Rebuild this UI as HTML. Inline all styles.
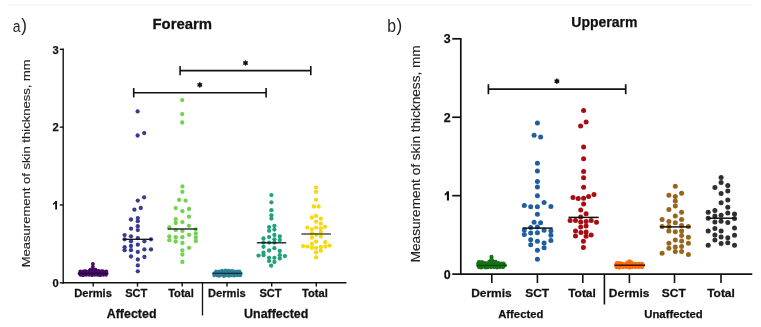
<!DOCTYPE html>
<html><head><meta charset="utf-8"><style>
html,body{margin:0;padding:0;background:#fff;}
body{width:761px;height:327px;overflow:hidden;position:relative;font-family:"Liberation Sans", sans-serif;}
svg{position:absolute;left:0;top:0;will-change:transform;filter:blur(0.25px);}
.lab{position:absolute;font-family:"Liberation Sans", sans-serif;color:#333;font-weight:normal;}
</style></head><body>
<svg width="761" height="327" viewBox="0 0 761 327" font-family='"Liberation Sans", sans-serif'>
<rect x="8" y="4" width="744" height="2" fill="#f8f8f8"/>
<line x1="63.2" y1="48.599999999999994" x2="63.2" y2="283.5" stroke="#111" stroke-width="1.4"/>
<line x1="62.5" y1="282.8" x2="346.5" y2="282.8" stroke="#111" stroke-width="1.5"/>
<line x1="59.8" y1="282.8" x2="63.2" y2="282.8" stroke="#111" stroke-width="1.4"/>
<text x="55.7" y="287.0" font-size="11.2" font-weight="bold" text-anchor="middle" fill="#111" stroke="#111" stroke-width="0.25" >0</text>
<line x1="59.8" y1="204.9666666666667" x2="63.2" y2="204.9666666666667" stroke="#111" stroke-width="1.4"/>
<path d="M55.2 200.9 L57.0 200.9 L57.0 209.4 L55.2 209.4 L55.2 203.6 Q54.4 204.4 53.1 204.9 L53.1 203.3 Q54.7 202.5 55.2 200.9 Z" fill="#111"/>
<line x1="59.8" y1="127.13333333333335" x2="63.2" y2="127.13333333333335" stroke="#111" stroke-width="1.4"/>
<text x="55.7" y="131.33333333333334" font-size="11.2" font-weight="bold" text-anchor="middle" fill="#111" stroke="#111" stroke-width="0.25" >2</text>
<line x1="59.8" y1="49.30000000000001" x2="63.2" y2="49.30000000000001" stroke="#111" stroke-width="1.4"/>
<text x="55.7" y="53.500000000000014" font-size="11.2" font-weight="bold" text-anchor="middle" fill="#111" stroke="#111" stroke-width="0.25" >3</text>
<line x1="93.2" y1="282.8" x2="93.2" y2="286.6" stroke="#111" stroke-width="1.4"/>
<line x1="137.5" y1="282.8" x2="137.5" y2="286.6" stroke="#111" stroke-width="1.4"/>
<line x1="182.2" y1="282.8" x2="182.2" y2="286.6" stroke="#111" stroke-width="1.4"/>
<line x1="227.0" y1="282.8" x2="227.0" y2="286.6" stroke="#111" stroke-width="1.4"/>
<line x1="271.7" y1="282.8" x2="271.7" y2="286.6" stroke="#111" stroke-width="1.4"/>
<line x1="316.3" y1="282.8" x2="316.3" y2="286.6" stroke="#111" stroke-width="1.4"/>
<text transform="translate(93.00,296.70) scale(1.06,1)" font-size="10.5" font-weight="bold" text-anchor="middle" fill="#111" stroke="#111" stroke-width="0.25" >Dermis</text>
<text transform="translate(136.30,296.70) scale(1.06,1)" font-size="10.5" font-weight="bold" text-anchor="middle" fill="#111" stroke="#111" stroke-width="0.25" >SCT</text>
<text transform="translate(181.00,296.70) scale(1.06,1)" font-size="10.5" font-weight="bold" text-anchor="middle" fill="#111" stroke="#111" stroke-width="0.25" >Total</text>
<text transform="translate(226.90,296.70) scale(1.06,1)" font-size="10.5" font-weight="bold" text-anchor="middle" fill="#111" stroke="#111" stroke-width="0.25" >Dermis</text>
<text transform="translate(270.50,296.70) scale(1.06,1)" font-size="10.5" font-weight="bold" text-anchor="middle" fill="#111" stroke="#111" stroke-width="0.25" >SCT</text>
<text transform="translate(314.90,296.70) scale(1.06,1)" font-size="10.5" font-weight="bold" text-anchor="middle" fill="#111" stroke="#111" stroke-width="0.25" >Total</text>
<line x1="202.5" y1="282.8" x2="202.5" y2="315.5" stroke="#111" stroke-width="1.3"/>
<text transform="translate(131.60,317.90) scale(1.02,1)" font-size="12.2" font-weight="bold" text-anchor="middle" fill="#111" stroke="#111" stroke-width="0.25" >Affected</text>
<text transform="translate(276.20,317.90) scale(1.02,1)" font-size="12.2" font-weight="bold" text-anchor="middle" fill="#111" stroke="#111" stroke-width="0.25" >Unaffected</text>
<text transform="translate(182.30,29.00) scale(1.05,1)" font-size="14.2" font-weight="bold" text-anchor="middle" fill="#111" stroke="#111" stroke-width="0.25" >Forearm</text>
<text transform="translate(30.3,163.3) rotate(-90)" font-size="10.6" text-anchor="middle" textLength="208" lengthAdjust="spacingAndGlyphs" fill="#222" stroke="#222" stroke-width="0.12">Measurement of skin thickness, mm</text>
<line x1="180.1" y1="70.6" x2="310.8" y2="70.6" stroke="#111" stroke-width="1.6"/>
<line x1="180.1" y1="65.89999999999999" x2="180.1" y2="75.3" stroke="#111" stroke-width="1.6"/>
<line x1="310.8" y1="65.89999999999999" x2="310.8" y2="75.3" stroke="#111" stroke-width="1.6"/>
<line x1="245.50" y1="60.90" x2="245.50" y2="65.10" stroke="#111" stroke-width="1.5" stroke-linecap="round"/>
<line x1="243.68" y1="61.95" x2="247.32" y2="64.05" stroke="#111" stroke-width="1.5" stroke-linecap="round"/>
<line x1="247.32" y1="61.95" x2="243.68" y2="64.05" stroke="#111" stroke-width="1.5" stroke-linecap="round"/>
<circle cx="245.5" cy="63.0" r="1.75" fill="#111"/>
<line x1="133.7" y1="92.7" x2="266.1" y2="92.7" stroke="#111" stroke-width="1.6"/>
<line x1="133.7" y1="88.0" x2="133.7" y2="97.4" stroke="#111" stroke-width="1.6"/>
<line x1="266.1" y1="88.0" x2="266.1" y2="97.4" stroke="#111" stroke-width="1.6"/>
<line x1="199.80" y1="82.80" x2="199.80" y2="87.00" stroke="#111" stroke-width="1.5" stroke-linecap="round"/>
<line x1="197.98" y1="83.85" x2="201.62" y2="85.95" stroke="#111" stroke-width="1.5" stroke-linecap="round"/>
<line x1="201.62" y1="83.85" x2="197.98" y2="85.95" stroke="#111" stroke-width="1.5" stroke-linecap="round"/>
<circle cx="199.8" cy="84.9" r="1.75" fill="#111"/>
<circle cx="137.6" cy="111.4" r="2.15" fill="#373b92"/>
<circle cx="137.6" cy="135.5" r="2.15" fill="#373b92"/>
<circle cx="144.2" cy="133.1" r="2.15" fill="#373b92"/>
<circle cx="144.1" cy="197.3" r="2.15" fill="#373b92"/>
<circle cx="137.8" cy="200.6" r="2.15" fill="#373b92"/>
<circle cx="134.4" cy="209.7" r="2.15" fill="#373b92"/>
<circle cx="140.8" cy="208.0" r="2.15" fill="#373b92"/>
<circle cx="131.0" cy="219.5" r="2.15" fill="#373b92"/>
<circle cx="137.8" cy="218.1" r="2.15" fill="#373b92"/>
<circle cx="137.8" cy="221.2" r="2.15" fill="#373b92"/>
<circle cx="131.0" cy="228.7" r="2.15" fill="#373b92"/>
<circle cx="137.8" cy="226.2" r="2.15" fill="#373b92"/>
<circle cx="137.8" cy="230.1" r="2.15" fill="#373b92"/>
<circle cx="124.6" cy="235.1" r="2.15" fill="#373b92"/>
<circle cx="131.0" cy="236.3" r="2.15" fill="#373b92"/>
<circle cx="137.8" cy="238.1" r="2.15" fill="#373b92"/>
<circle cx="124.6" cy="239.3" r="2.15" fill="#373b92"/>
<circle cx="131.0" cy="241.3" r="2.15" fill="#373b92"/>
<circle cx="144.4" cy="241.3" r="2.15" fill="#373b92"/>
<circle cx="151.0" cy="239.3" r="2.15" fill="#373b92"/>
<circle cx="137.8" cy="244.7" r="2.15" fill="#373b92"/>
<circle cx="131.0" cy="246.0" r="2.15" fill="#373b92"/>
<circle cx="124.6" cy="247.2" r="2.15" fill="#373b92"/>
<circle cx="144.4" cy="249.4" r="2.15" fill="#373b92"/>
<circle cx="151.0" cy="249.4" r="2.15" fill="#373b92"/>
<circle cx="124.6" cy="250.2" r="2.15" fill="#373b92"/>
<circle cx="131.0" cy="250.2" r="2.15" fill="#373b92"/>
<circle cx="137.8" cy="251.9" r="2.15" fill="#373b92"/>
<circle cx="131.0" cy="256.5" r="2.15" fill="#373b92"/>
<circle cx="144.4" cy="257.0" r="2.15" fill="#373b92"/>
<circle cx="137.8" cy="259.5" r="2.15" fill="#373b92"/>
<circle cx="137.8" cy="265.4" r="2.15" fill="#373b92"/>
<circle cx="137.8" cy="271.3" r="2.15" fill="#373b92"/>
<line x1="123.1" y1="239.3" x2="152.1" y2="239.3" stroke="#111" stroke-width="1.3"/>
<circle cx="182.2" cy="100.1" r="2.15" fill="#6fd34c"/>
<circle cx="182.2" cy="114.1" r="2.15" fill="#6fd34c"/>
<circle cx="182.2" cy="122.5" r="2.15" fill="#6fd34c"/>
<circle cx="182.4" cy="186.4" r="2.15" fill="#6fd34c"/>
<circle cx="182.4" cy="191.8" r="2.15" fill="#6fd34c"/>
<circle cx="179.1" cy="199.9" r="2.15" fill="#6fd34c"/>
<circle cx="185.6" cy="200.6" r="2.15" fill="#6fd34c"/>
<circle cx="175.7" cy="208.1" r="2.15" fill="#6fd34c"/>
<circle cx="182.4" cy="211.2" r="2.15" fill="#6fd34c"/>
<circle cx="189.0" cy="209.0" r="2.15" fill="#6fd34c"/>
<circle cx="189.0" cy="216.7" r="2.15" fill="#6fd34c"/>
<circle cx="175.7" cy="219.1" r="2.15" fill="#6fd34c"/>
<circle cx="175.7" cy="223.0" r="2.15" fill="#6fd34c"/>
<circle cx="182.4" cy="222.1" r="2.15" fill="#6fd34c"/>
<circle cx="189.0" cy="225.8" r="2.15" fill="#6fd34c"/>
<circle cx="169.3" cy="227.5" r="2.15" fill="#6fd34c"/>
<circle cx="175.7" cy="230.1" r="2.15" fill="#6fd34c"/>
<circle cx="182.4" cy="230.9" r="2.15" fill="#6fd34c"/>
<circle cx="195.8" cy="229.3" r="2.15" fill="#6fd34c"/>
<circle cx="195.8" cy="233.5" r="2.15" fill="#6fd34c"/>
<circle cx="195.8" cy="237.3" r="2.15" fill="#6fd34c"/>
<circle cx="195.8" cy="241.0" r="2.15" fill="#6fd34c"/>
<circle cx="189.0" cy="234.8" r="2.15" fill="#6fd34c"/>
<circle cx="169.3" cy="236.3" r="2.15" fill="#6fd34c"/>
<circle cx="169.3" cy="240.2" r="2.15" fill="#6fd34c"/>
<circle cx="175.7" cy="237.2" r="2.15" fill="#6fd34c"/>
<circle cx="175.7" cy="241.5" r="2.15" fill="#6fd34c"/>
<circle cx="182.4" cy="237.2" r="2.15" fill="#6fd34c"/>
<circle cx="182.4" cy="243.0" r="2.15" fill="#6fd34c"/>
<circle cx="189.0" cy="247.8" r="2.15" fill="#6fd34c"/>
<circle cx="182.4" cy="250.3" r="2.15" fill="#6fd34c"/>
<circle cx="182.4" cy="254.5" r="2.15" fill="#6fd34c"/>
<circle cx="182.4" cy="262.0" r="2.15" fill="#6fd34c"/>
<line x1="167.6" y1="229.0" x2="197.0" y2="229.0" stroke="#111" stroke-width="1.3"/>
<circle cx="92.9" cy="263.9" r="1.9" fill="#440a66"/>
<circle cx="92.9" cy="266.8" r="1.9" fill="#440a66"/>
<circle cx="90.5" cy="269.6" r="1.9" fill="#440a66"/>
<circle cx="93.0" cy="269.2" r="1.9" fill="#440a66"/>
<circle cx="95.5" cy="269.6" r="1.9" fill="#440a66"/>
<circle cx="80.3" cy="271.5" r="1.9" fill="#440a66"/>
<circle cx="83.2" cy="271.5" r="1.9" fill="#440a66"/>
<circle cx="86.1" cy="271.5" r="1.9" fill="#440a66"/>
<circle cx="89.0" cy="271.5" r="1.9" fill="#440a66"/>
<circle cx="91.9" cy="271.5" r="1.9" fill="#440a66"/>
<circle cx="94.7" cy="271.5" r="1.9" fill="#440a66"/>
<circle cx="97.6" cy="271.5" r="1.9" fill="#440a66"/>
<circle cx="100.5" cy="271.5" r="1.9" fill="#440a66"/>
<circle cx="103.4" cy="271.5" r="1.9" fill="#440a66"/>
<circle cx="106.3" cy="271.5" r="1.9" fill="#440a66"/>
<circle cx="79.6" cy="273.4" r="1.9" fill="#440a66"/>
<circle cx="82.6" cy="273.4" r="1.9" fill="#440a66"/>
<circle cx="85.6" cy="273.4" r="1.9" fill="#440a66"/>
<circle cx="88.6" cy="273.4" r="1.9" fill="#440a66"/>
<circle cx="91.6" cy="273.4" r="1.9" fill="#440a66"/>
<circle cx="94.6" cy="273.4" r="1.9" fill="#440a66"/>
<circle cx="97.6" cy="273.4" r="1.9" fill="#440a66"/>
<circle cx="100.6" cy="273.4" r="1.9" fill="#440a66"/>
<circle cx="103.6" cy="273.4" r="1.9" fill="#440a66"/>
<circle cx="106.6" cy="273.4" r="1.9" fill="#440a66"/>
<circle cx="80.5" cy="274.8" r="1.9" fill="#440a66"/>
<circle cx="83.3" cy="274.8" r="1.9" fill="#440a66"/>
<circle cx="86.2" cy="274.8" r="1.9" fill="#440a66"/>
<circle cx="89.0" cy="274.8" r="1.9" fill="#440a66"/>
<circle cx="91.8" cy="274.8" r="1.9" fill="#440a66"/>
<circle cx="94.7" cy="274.8" r="1.9" fill="#440a66"/>
<circle cx="97.5" cy="274.8" r="1.9" fill="#440a66"/>
<circle cx="100.3" cy="274.8" r="1.9" fill="#440a66"/>
<circle cx="103.2" cy="274.8" r="1.9" fill="#440a66"/>
<circle cx="106.0" cy="274.8" r="1.9" fill="#440a66"/>
<circle cx="85.0" cy="271.2" r="1.9" fill="#440a66"/>
<circle cx="89.5" cy="271.0" r="1.9" fill="#440a66"/>
<circle cx="98.5" cy="271.0" r="1.9" fill="#440a66"/>
<circle cx="102.0" cy="271.1" r="1.9" fill="#440a66"/>
<circle cx="83.0" cy="275.2" r="1.9" fill="#440a66"/>
<circle cx="92.0" cy="275.1" r="1.9" fill="#440a66"/>
<circle cx="100.0" cy="275.2" r="1.9" fill="#440a66"/>
<line x1="78.5" y1="273.4" x2="107.6" y2="273.4" stroke="#1a0030" stroke-width="1.0"/>
<circle cx="216.0" cy="271.5" r="1.9" fill="#2b7d95"/>
<circle cx="218.9" cy="271.5" r="1.9" fill="#2b7d95"/>
<circle cx="221.9" cy="271.5" r="1.9" fill="#2b7d95"/>
<circle cx="224.8" cy="271.5" r="1.9" fill="#2b7d95"/>
<circle cx="227.8" cy="271.5" r="1.9" fill="#2b7d95"/>
<circle cx="230.7" cy="271.5" r="1.9" fill="#2b7d95"/>
<circle cx="233.6" cy="271.5" r="1.9" fill="#2b7d95"/>
<circle cx="236.6" cy="271.5" r="1.9" fill="#2b7d95"/>
<circle cx="239.5" cy="271.5" r="1.9" fill="#2b7d95"/>
<circle cx="214.0" cy="273.3" r="1.9" fill="#2b7d95"/>
<circle cx="217.0" cy="273.3" r="1.9" fill="#2b7d95"/>
<circle cx="219.9" cy="273.3" r="1.9" fill="#2b7d95"/>
<circle cx="222.9" cy="273.3" r="1.9" fill="#2b7d95"/>
<circle cx="225.9" cy="273.3" r="1.9" fill="#2b7d95"/>
<circle cx="228.8" cy="273.3" r="1.9" fill="#2b7d95"/>
<circle cx="231.8" cy="273.3" r="1.9" fill="#2b7d95"/>
<circle cx="234.8" cy="273.3" r="1.9" fill="#2b7d95"/>
<circle cx="237.7" cy="273.3" r="1.9" fill="#2b7d95"/>
<circle cx="240.7" cy="273.3" r="1.9" fill="#2b7d95"/>
<circle cx="214.3" cy="275.3" r="1.9" fill="#2b7d95"/>
<circle cx="217.2" cy="275.3" r="1.9" fill="#2b7d95"/>
<circle cx="220.1" cy="275.3" r="1.9" fill="#2b7d95"/>
<circle cx="223.0" cy="275.3" r="1.9" fill="#2b7d95"/>
<circle cx="225.9" cy="275.3" r="1.9" fill="#2b7d95"/>
<circle cx="228.7" cy="275.3" r="1.9" fill="#2b7d95"/>
<circle cx="231.6" cy="275.3" r="1.9" fill="#2b7d95"/>
<circle cx="234.5" cy="275.3" r="1.9" fill="#2b7d95"/>
<circle cx="237.4" cy="275.3" r="1.9" fill="#2b7d95"/>
<circle cx="240.3" cy="275.3" r="1.9" fill="#2b7d95"/>
<circle cx="222.0" cy="270.6" r="1.9" fill="#2b7d95"/>
<circle cx="225.5" cy="270.4" r="1.9" fill="#2b7d95"/>
<circle cx="228.5" cy="270.7" r="1.9" fill="#2b7d95"/>
<circle cx="232.0" cy="271.0" r="1.9" fill="#2b7d95"/>
<circle cx="219.0" cy="275.8" r="1.9" fill="#2b7d95"/>
<circle cx="224.0" cy="276.0" r="1.9" fill="#2b7d95"/>
<circle cx="229.0" cy="275.8" r="1.9" fill="#2b7d95"/>
<circle cx="234.0" cy="275.6" r="1.9" fill="#2b7d95"/>
<line x1="212.8" y1="273.3" x2="241.8" y2="273.3" stroke="#0a2530" stroke-width="1.1"/>
<circle cx="271.4" cy="195.1" r="2.15" fill="#20a27b"/>
<circle cx="271.4" cy="202.3" r="2.15" fill="#20a27b"/>
<circle cx="271.4" cy="210.2" r="2.15" fill="#20a27b"/>
<circle cx="271.4" cy="215.3" r="2.15" fill="#20a27b"/>
<circle cx="271.4" cy="218.6" r="2.15" fill="#20a27b"/>
<circle cx="269.1" cy="227.1" r="2.15" fill="#20a27b"/>
<circle cx="269.1" cy="230.8" r="2.15" fill="#20a27b"/>
<circle cx="274.4" cy="225.9" r="2.15" fill="#20a27b"/>
<circle cx="274.4" cy="229.6" r="2.15" fill="#20a27b"/>
<circle cx="263.5" cy="238.5" r="2.15" fill="#20a27b"/>
<circle cx="269.1" cy="237.1" r="2.15" fill="#20a27b"/>
<circle cx="274.4" cy="235.0" r="2.15" fill="#20a27b"/>
<circle cx="274.4" cy="239.3" r="2.15" fill="#20a27b"/>
<circle cx="279.8" cy="236.5" r="2.15" fill="#20a27b"/>
<circle cx="279.8" cy="240.1" r="2.15" fill="#20a27b"/>
<circle cx="263.5" cy="242.6" r="2.15" fill="#20a27b"/>
<circle cx="269.1" cy="242.6" r="2.15" fill="#20a27b"/>
<circle cx="274.4" cy="242.6" r="2.15" fill="#20a27b"/>
<circle cx="263.5" cy="246.8" r="2.15" fill="#20a27b"/>
<circle cx="274.4" cy="248.2" r="2.15" fill="#20a27b"/>
<circle cx="269.1" cy="250.5" r="2.15" fill="#20a27b"/>
<circle cx="279.8" cy="251.0" r="2.15" fill="#20a27b"/>
<circle cx="263.5" cy="252.7" r="2.15" fill="#20a27b"/>
<circle cx="258.5" cy="255.6" r="2.15" fill="#20a27b"/>
<circle cx="263.5" cy="255.2" r="2.15" fill="#20a27b"/>
<circle cx="279.8" cy="255.2" r="2.15" fill="#20a27b"/>
<circle cx="284.9" cy="256.1" r="2.15" fill="#20a27b"/>
<circle cx="269.1" cy="257.8" r="2.15" fill="#20a27b"/>
<circle cx="274.4" cy="257.8" r="2.15" fill="#20a27b"/>
<circle cx="279.8" cy="258.6" r="2.15" fill="#20a27b"/>
<circle cx="269.1" cy="261.1" r="2.15" fill="#20a27b"/>
<circle cx="274.4" cy="262.0" r="2.15" fill="#20a27b"/>
<circle cx="271.1" cy="265.7" r="2.15" fill="#20a27b"/>
<line x1="256.8" y1="242.8" x2="286.2" y2="242.8" stroke="#111" stroke-width="1.3"/>
<circle cx="316.1" cy="187.6" r="2.15" fill="#f5d80e"/>
<circle cx="316.1" cy="191.8" r="2.15" fill="#f5d80e"/>
<circle cx="316.1" cy="199.7" r="2.15" fill="#f5d80e"/>
<circle cx="313.9" cy="206.5" r="2.15" fill="#f5d80e"/>
<circle cx="318.6" cy="206.5" r="2.15" fill="#f5d80e"/>
<circle cx="316.1" cy="215.9" r="2.15" fill="#f5d80e"/>
<circle cx="311.9" cy="217.5" r="2.15" fill="#f5d80e"/>
<circle cx="320.8" cy="218.7" r="2.15" fill="#f5d80e"/>
<circle cx="316.1" cy="221.7" r="2.15" fill="#f5d80e"/>
<circle cx="320.8" cy="223.7" r="2.15" fill="#f5d80e"/>
<circle cx="307.3" cy="227.6" r="2.15" fill="#f5d80e"/>
<circle cx="311.9" cy="229.3" r="2.15" fill="#f5d80e"/>
<circle cx="316.1" cy="227.6" r="2.15" fill="#f5d80e"/>
<circle cx="320.8" cy="228.5" r="2.15" fill="#f5d80e"/>
<circle cx="325.0" cy="226.8" r="2.15" fill="#f5d80e"/>
<circle cx="320.8" cy="231.8" r="2.15" fill="#f5d80e"/>
<circle cx="311.9" cy="233.5" r="2.15" fill="#f5d80e"/>
<circle cx="316.1" cy="234.8" r="2.15" fill="#f5d80e"/>
<circle cx="320.8" cy="236.5" r="2.15" fill="#f5d80e"/>
<circle cx="311.9" cy="237.7" r="2.15" fill="#f5d80e"/>
<circle cx="316.1" cy="241.6" r="2.15" fill="#f5d80e"/>
<circle cx="325.3" cy="242.2" r="2.15" fill="#f5d80e"/>
<circle cx="311.9" cy="243.9" r="2.15" fill="#f5d80e"/>
<circle cx="303.1" cy="246.1" r="2.15" fill="#f5d80e"/>
<circle cx="307.3" cy="246.6" r="2.15" fill="#f5d80e"/>
<circle cx="311.9" cy="247.8" r="2.15" fill="#f5d80e"/>
<circle cx="316.1" cy="247.8" r="2.15" fill="#f5d80e"/>
<circle cx="320.8" cy="247.0" r="2.15" fill="#f5d80e"/>
<circle cx="325.3" cy="246.6" r="2.15" fill="#f5d80e"/>
<circle cx="329.5" cy="245.6" r="2.15" fill="#f5d80e"/>
<circle cx="316.1" cy="252.3" r="2.15" fill="#f5d80e"/>
<circle cx="320.8" cy="250.7" r="2.15" fill="#f5d80e"/>
<circle cx="316.1" cy="257.4" r="2.15" fill="#f5d80e"/>
<line x1="301.4" y1="234.0" x2="330.9" y2="234.0" stroke="#333" stroke-width="1.3"/>
<line x1="460.8" y1="38.0" x2="460.8" y2="274.90000000000003" stroke="#111" stroke-width="1.7"/>
<line x1="460.0" y1="274.1" x2="752.3" y2="274.1" stroke="#111" stroke-width="1.7"/>
<line x1="452.2" y1="274.1" x2="460.8" y2="274.1" stroke="#111" stroke-width="1.7"/>
<text x="447.3" y="278.6" font-size="12.4" font-weight="bold" text-anchor="middle" fill="#111" stroke="#111" stroke-width="0.25" >0</text>
<line x1="452.2" y1="195.66666666666669" x2="460.8" y2="195.66666666666669" stroke="#111" stroke-width="1.7"/>
<path d="M446.9 191.3 L449.0 191.3 L449.0 200.4 L446.9 200.4 L446.9 194.2 Q446.0 195.1 444.7 195.6 L444.7 193.8 Q446.3 193.0 446.9 191.3 Z" fill="#111"/>
<line x1="452.2" y1="117.23333333333335" x2="460.8" y2="117.23333333333335" stroke="#111" stroke-width="1.7"/>
<text x="447.3" y="121.73333333333335" font-size="12.4" font-weight="bold" text-anchor="middle" fill="#111" stroke="#111" stroke-width="0.25" >2</text>
<line x1="452.2" y1="38.79999999999998" x2="460.8" y2="38.79999999999998" stroke="#111" stroke-width="1.7"/>
<text x="447.3" y="43.29999999999998" font-size="12.4" font-weight="bold" text-anchor="middle" fill="#111" stroke="#111" stroke-width="0.25" >3</text>
<line x1="491.8" y1="274.1" x2="491.8" y2="283.1" stroke="#111" stroke-width="1.6"/>
<line x1="537.4" y1="274.1" x2="537.4" y2="283.1" stroke="#111" stroke-width="1.6"/>
<line x1="582.8" y1="274.1" x2="582.8" y2="283.1" stroke="#111" stroke-width="1.6"/>
<line x1="629.4" y1="274.1" x2="629.4" y2="283.1" stroke="#111" stroke-width="1.6"/>
<line x1="674.5" y1="274.1" x2="674.5" y2="283.1" stroke="#111" stroke-width="1.6"/>
<line x1="721.0" y1="274.1" x2="721.0" y2="283.1" stroke="#111" stroke-width="1.6"/>
<text transform="translate(491.40,296.70) scale(1.04,1)" font-size="11.5" font-weight="bold" text-anchor="middle" fill="#111" stroke="#111" stroke-width="0.25" >Dermis</text>
<text transform="translate(537.20,296.70) scale(1.04,1)" font-size="11.5" font-weight="bold" text-anchor="middle" fill="#111" stroke="#111" stroke-width="0.25" >SCT</text>
<text transform="translate(582.00,296.70) scale(1.04,1)" font-size="11.5" font-weight="bold" text-anchor="middle" fill="#111" stroke="#111" stroke-width="0.25" >Total</text>
<text transform="translate(629.10,296.70) scale(1.04,1)" font-size="11.5" font-weight="bold" text-anchor="middle" fill="#111" stroke="#111" stroke-width="0.25" >Dermis</text>
<text transform="translate(673.80,296.70) scale(1.04,1)" font-size="11.5" font-weight="bold" text-anchor="middle" fill="#111" stroke="#111" stroke-width="0.25" >SCT</text>
<text transform="translate(721.00,296.70) scale(1.04,1)" font-size="11.5" font-weight="bold" text-anchor="middle" fill="#111" stroke="#111" stroke-width="0.25" >Total</text>
<line x1="604.4" y1="274.1" x2="604.4" y2="304.5" stroke="#111" stroke-width="1.6"/>
<text x="520.8" y="317.9" font-size="11.3" font-weight="bold" text-anchor="middle" fill="#111" stroke="#111" stroke-width="0.25" >Affected</text>
<text x="673.5" y="317.9" font-size="11.3" font-weight="bold" text-anchor="middle" fill="#111" stroke="#111" stroke-width="0.25" >Unaffected</text>
<text x="604.4" y="27.2" font-size="14.0" font-weight="bold" text-anchor="middle" fill="#111" stroke="#111" stroke-width="0.25" >Upperarm</text>
<text transform="translate(420.3,153.8) rotate(-90)" font-size="11.9" text-anchor="middle" textLength="217" lengthAdjust="spacingAndGlyphs" fill="#222" stroke="#222" stroke-width="0.12">Measurement of skin thickness, mm</text>
<line x1="488.4" y1="89.2" x2="625.7" y2="89.2" stroke="#111" stroke-width="1.7"/>
<line x1="488.4" y1="84.2" x2="488.4" y2="94.2" stroke="#111" stroke-width="1.7"/>
<line x1="625.7" y1="84.2" x2="625.7" y2="94.2" stroke="#111" stroke-width="1.7"/>
<line x1="556.90" y1="79.10" x2="556.90" y2="83.30" stroke="#111" stroke-width="1.5" stroke-linecap="round"/>
<line x1="555.08" y1="80.15" x2="558.72" y2="82.25" stroke="#111" stroke-width="1.5" stroke-linecap="round"/>
<line x1="558.72" y1="80.15" x2="555.08" y2="82.25" stroke="#111" stroke-width="1.5" stroke-linecap="round"/>
<circle cx="556.9" cy="81.2" r="1.75" fill="#111"/>
<circle cx="537.4" cy="123.1" r="2.5" fill="#1f5f9f"/>
<circle cx="534.1" cy="135.2" r="2.5" fill="#1f5f9f"/>
<circle cx="540.6" cy="136.9" r="2.5" fill="#1f5f9f"/>
<circle cx="537.4" cy="163.3" r="2.5" fill="#1f5f9f"/>
<circle cx="537.4" cy="171.0" r="2.5" fill="#1f5f9f"/>
<circle cx="537.4" cy="181.6" r="2.5" fill="#1f5f9f"/>
<circle cx="537.4" cy="187.0" r="2.5" fill="#1f5f9f"/>
<circle cx="537.4" cy="195.7" r="2.5" fill="#1f5f9f"/>
<circle cx="544.1" cy="202.4" r="2.5" fill="#1f5f9f"/>
<circle cx="524.3" cy="205.6" r="2.5" fill="#1f5f9f"/>
<circle cx="530.7" cy="206.7" r="2.5" fill="#1f5f9f"/>
<circle cx="537.4" cy="206.7" r="2.5" fill="#1f5f9f"/>
<circle cx="550.9" cy="206.4" r="2.5" fill="#1f5f9f"/>
<circle cx="537.4" cy="214.3" r="2.5" fill="#1f5f9f"/>
<circle cx="534.1" cy="222.2" r="2.5" fill="#1f5f9f"/>
<circle cx="540.6" cy="222.7" r="2.5" fill="#1f5f9f"/>
<circle cx="530.7" cy="227.4" r="2.5" fill="#1f5f9f"/>
<circle cx="537.4" cy="226.9" r="2.5" fill="#1f5f9f"/>
<circle cx="524.3" cy="229.9" r="2.5" fill="#1f5f9f"/>
<circle cx="544.1" cy="230.3" r="2.5" fill="#1f5f9f"/>
<circle cx="550.9" cy="230.8" r="2.5" fill="#1f5f9f"/>
<circle cx="530.7" cy="233.1" r="2.5" fill="#1f5f9f"/>
<circle cx="537.4" cy="232.8" r="2.5" fill="#1f5f9f"/>
<circle cx="524.3" cy="234.5" r="2.5" fill="#1f5f9f"/>
<circle cx="550.9" cy="235.3" r="2.5" fill="#1f5f9f"/>
<circle cx="530.7" cy="239.7" r="2.5" fill="#1f5f9f"/>
<circle cx="550.9" cy="240.4" r="2.5" fill="#1f5f9f"/>
<circle cx="537.4" cy="241.2" r="2.5" fill="#1f5f9f"/>
<circle cx="530.7" cy="244.7" r="2.5" fill="#1f5f9f"/>
<circle cx="544.1" cy="243.0" r="2.5" fill="#1f5f9f"/>
<circle cx="544.1" cy="247.7" r="2.5" fill="#1f5f9f"/>
<circle cx="537.4" cy="250.2" r="2.5" fill="#1f5f9f"/>
<circle cx="537.4" cy="259.2" r="2.5" fill="#1f5f9f"/>
<line x1="522.6" y1="228.1" x2="552.6" y2="228.1" stroke="#111" stroke-width="1.5"/>
<circle cx="583.6" cy="110.4" r="2.5" fill="#a70d12"/>
<circle cx="586.1" cy="121.9" r="2.5" fill="#a70d12"/>
<circle cx="580.6" cy="126.1" r="2.5" fill="#a70d12"/>
<circle cx="583.6" cy="147.1" r="2.5" fill="#a70d12"/>
<circle cx="583.6" cy="158.7" r="2.5" fill="#a70d12"/>
<circle cx="583.6" cy="171.4" r="2.5" fill="#a70d12"/>
<circle cx="583.6" cy="177.8" r="2.5" fill="#a70d12"/>
<circle cx="583.6" cy="187.3" r="2.5" fill="#a70d12"/>
<circle cx="573.0" cy="197.4" r="2.5" fill="#a70d12"/>
<circle cx="578.2" cy="198.4" r="2.5" fill="#a70d12"/>
<circle cx="583.6" cy="198.2" r="2.5" fill="#a70d12"/>
<circle cx="588.6" cy="196.6" r="2.5" fill="#a70d12"/>
<circle cx="594.0" cy="194.6" r="2.5" fill="#a70d12"/>
<circle cx="583.6" cy="204.1" r="2.5" fill="#a70d12"/>
<circle cx="580.7" cy="210.1" r="2.5" fill="#a70d12"/>
<circle cx="586.1" cy="213.8" r="2.5" fill="#a70d12"/>
<circle cx="580.7" cy="216.9" r="2.5" fill="#a70d12"/>
<circle cx="570.1" cy="220.6" r="2.5" fill="#a70d12"/>
<circle cx="575.5" cy="220.6" r="2.5" fill="#a70d12"/>
<circle cx="580.7" cy="221.9" r="2.5" fill="#a70d12"/>
<circle cx="586.1" cy="221.4" r="2.5" fill="#a70d12"/>
<circle cx="591.2" cy="220.6" r="2.5" fill="#a70d12"/>
<circle cx="596.5" cy="222.2" r="2.5" fill="#a70d12"/>
<circle cx="580.7" cy="227.0" r="2.5" fill="#a70d12"/>
<circle cx="586.1" cy="226.1" r="2.5" fill="#a70d12"/>
<circle cx="575.5" cy="231.0" r="2.5" fill="#a70d12"/>
<circle cx="575.5" cy="235.9" r="2.5" fill="#a70d12"/>
<circle cx="580.9" cy="232.6" r="2.5" fill="#a70d12"/>
<circle cx="586.1" cy="231.9" r="2.5" fill="#a70d12"/>
<circle cx="586.1" cy="236.2" r="2.5" fill="#a70d12"/>
<circle cx="591.2" cy="235.1" r="2.5" fill="#a70d12"/>
<circle cx="583.4" cy="241.3" r="2.5" fill="#a70d12"/>
<circle cx="583.4" cy="247.6" r="2.5" fill="#a70d12"/>
<line x1="568.5" y1="217.4" x2="598.7" y2="217.4" stroke="#111" stroke-width="1.5"/>
<circle cx="491.5" cy="256.9" r="2.1" fill="#167216"/>
<circle cx="491.5" cy="259.5" r="2.1" fill="#167216"/>
<circle cx="489.5" cy="261.5" r="2.1" fill="#167216"/>
<circle cx="492.5" cy="261.0" r="2.1" fill="#167216"/>
<circle cx="495.5" cy="261.8" r="2.1" fill="#167216"/>
<circle cx="479.0" cy="262.0" r="2.1" fill="#167216"/>
<circle cx="482.0" cy="262.2" r="2.1" fill="#167216"/>
<circle cx="478.5" cy="263.2" r="2.1" fill="#167216"/>
<circle cx="481.8" cy="263.2" r="2.1" fill="#167216"/>
<circle cx="485.0" cy="263.2" r="2.1" fill="#167216"/>
<circle cx="488.2" cy="263.2" r="2.1" fill="#167216"/>
<circle cx="491.5" cy="263.2" r="2.1" fill="#167216"/>
<circle cx="494.8" cy="263.2" r="2.1" fill="#167216"/>
<circle cx="498.0" cy="263.2" r="2.1" fill="#167216"/>
<circle cx="499.0" cy="263.7" r="2.1" fill="#167216"/>
<circle cx="501.2" cy="263.7" r="2.1" fill="#167216"/>
<circle cx="503.5" cy="263.7" r="2.1" fill="#167216"/>
<circle cx="478.2" cy="265.3" r="2.1" fill="#167216"/>
<circle cx="481.2" cy="265.3" r="2.1" fill="#167216"/>
<circle cx="484.1" cy="265.3" r="2.1" fill="#167216"/>
<circle cx="487.1" cy="265.3" r="2.1" fill="#167216"/>
<circle cx="490.0" cy="265.3" r="2.1" fill="#167216"/>
<circle cx="493.0" cy="265.3" r="2.1" fill="#167216"/>
<circle cx="495.9" cy="265.3" r="2.1" fill="#167216"/>
<circle cx="498.9" cy="265.3" r="2.1" fill="#167216"/>
<circle cx="501.8" cy="265.3" r="2.1" fill="#167216"/>
<circle cx="504.8" cy="265.3" r="2.1" fill="#167216"/>
<circle cx="479.0" cy="267.1" r="2.1" fill="#167216"/>
<circle cx="482.0" cy="267.1" r="2.1" fill="#167216"/>
<circle cx="485.0" cy="267.1" r="2.1" fill="#167216"/>
<circle cx="488.0" cy="267.1" r="2.1" fill="#167216"/>
<circle cx="491.0" cy="267.1" r="2.1" fill="#167216"/>
<circle cx="494.0" cy="267.1" r="2.1" fill="#167216"/>
<circle cx="497.0" cy="267.1" r="2.1" fill="#167216"/>
<circle cx="500.0" cy="267.1" r="2.1" fill="#167216"/>
<circle cx="503.0" cy="267.1" r="2.1" fill="#167216"/>
<circle cx="481.0" cy="267.4" r="2.1" fill="#167216"/>
<circle cx="486.0" cy="267.5" r="2.1" fill="#167216"/>
<circle cx="497.0" cy="267.3" r="2.1" fill="#167216"/>
<line x1="477" y1="265.4" x2="506.5" y2="265.4" stroke="#0a3a0a" stroke-width="0.9"/>
<circle cx="629.5" cy="261.3" r="2.1" fill="#ff6a0c"/>
<circle cx="627.5" cy="262.5" r="2.1" fill="#ff6a0c"/>
<circle cx="631.5" cy="262.5" r="2.1" fill="#ff6a0c"/>
<circle cx="617.0" cy="263.0" r="2.1" fill="#ff6a0c"/>
<circle cx="620.0" cy="263.1" r="2.1" fill="#ff6a0c"/>
<circle cx="616.5" cy="263.8" r="2.1" fill="#ff6a0c"/>
<circle cx="619.7" cy="263.8" r="2.1" fill="#ff6a0c"/>
<circle cx="622.9" cy="263.8" r="2.1" fill="#ff6a0c"/>
<circle cx="626.1" cy="263.8" r="2.1" fill="#ff6a0c"/>
<circle cx="629.2" cy="263.8" r="2.1" fill="#ff6a0c"/>
<circle cx="632.4" cy="263.8" r="2.1" fill="#ff6a0c"/>
<circle cx="635.6" cy="263.8" r="2.1" fill="#ff6a0c"/>
<circle cx="638.8" cy="263.8" r="2.1" fill="#ff6a0c"/>
<circle cx="642.0" cy="263.8" r="2.1" fill="#ff6a0c"/>
<circle cx="616.2" cy="265.3" r="2.1" fill="#ff6a0c"/>
<circle cx="619.2" cy="265.3" r="2.1" fill="#ff6a0c"/>
<circle cx="622.2" cy="265.3" r="2.1" fill="#ff6a0c"/>
<circle cx="625.1" cy="265.3" r="2.1" fill="#ff6a0c"/>
<circle cx="628.1" cy="265.3" r="2.1" fill="#ff6a0c"/>
<circle cx="631.1" cy="265.3" r="2.1" fill="#ff6a0c"/>
<circle cx="634.1" cy="265.3" r="2.1" fill="#ff6a0c"/>
<circle cx="637.0" cy="265.3" r="2.1" fill="#ff6a0c"/>
<circle cx="640.0" cy="265.3" r="2.1" fill="#ff6a0c"/>
<circle cx="643.0" cy="265.3" r="2.1" fill="#ff6a0c"/>
<circle cx="616.5" cy="267.1" r="2.1" fill="#ff6a0c"/>
<circle cx="619.7" cy="267.1" r="2.1" fill="#ff6a0c"/>
<circle cx="622.9" cy="267.1" r="2.1" fill="#ff6a0c"/>
<circle cx="626.1" cy="267.1" r="2.1" fill="#ff6a0c"/>
<circle cx="629.2" cy="267.1" r="2.1" fill="#ff6a0c"/>
<circle cx="632.4" cy="267.1" r="2.1" fill="#ff6a0c"/>
<circle cx="635.6" cy="267.1" r="2.1" fill="#ff6a0c"/>
<circle cx="638.8" cy="267.1" r="2.1" fill="#ff6a0c"/>
<circle cx="642.0" cy="267.1" r="2.1" fill="#ff6a0c"/>
<circle cx="619.0" cy="267.6" r="2.1" fill="#ff6a0c"/>
<circle cx="629.5" cy="267.6" r="2.1" fill="#ff6a0c"/>
<line x1="614.5" y1="265.2" x2="645" y2="265.2" stroke="#200800" stroke-width="1.3"/>
<circle cx="675.3" cy="186.3" r="2.5" fill="#97661c"/>
<circle cx="668.9" cy="195.2" r="2.5" fill="#97661c"/>
<circle cx="681.6" cy="193.2" r="2.5" fill="#97661c"/>
<circle cx="675.3" cy="196.5" r="2.5" fill="#97661c"/>
<circle cx="675.3" cy="201.0" r="2.5" fill="#97661c"/>
<circle cx="675.3" cy="206.1" r="2.5" fill="#97661c"/>
<circle cx="668.9" cy="209.5" r="2.5" fill="#97661c"/>
<circle cx="681.6" cy="212.3" r="2.5" fill="#97661c"/>
<circle cx="675.3" cy="216.0" r="2.5" fill="#97661c"/>
<circle cx="662.1" cy="219.6" r="2.5" fill="#97661c"/>
<circle cx="681.6" cy="219.6" r="2.5" fill="#97661c"/>
<circle cx="668.9" cy="221.6" r="2.5" fill="#97661c"/>
<circle cx="675.3" cy="222.7" r="2.5" fill="#97661c"/>
<circle cx="662.1" cy="226.6" r="2.5" fill="#97661c"/>
<circle cx="668.9" cy="226.4" r="2.5" fill="#97661c"/>
<circle cx="681.6" cy="225.5" r="2.5" fill="#97661c"/>
<circle cx="688.4" cy="226.6" r="2.5" fill="#97661c"/>
<circle cx="668.9" cy="231.0" r="2.5" fill="#97661c"/>
<circle cx="675.3" cy="231.8" r="2.5" fill="#97661c"/>
<circle cx="681.6" cy="231.0" r="2.5" fill="#97661c"/>
<circle cx="681.6" cy="235.5" r="2.5" fill="#97661c"/>
<circle cx="688.4" cy="237.2" r="2.5" fill="#97661c"/>
<circle cx="675.3" cy="239.9" r="2.5" fill="#97661c"/>
<circle cx="681.6" cy="241.1" r="2.5" fill="#97661c"/>
<circle cx="688.4" cy="243.2" r="2.5" fill="#97661c"/>
<circle cx="668.9" cy="243.2" r="2.5" fill="#97661c"/>
<circle cx="668.9" cy="248.3" r="2.5" fill="#97661c"/>
<circle cx="675.3" cy="246.9" r="2.5" fill="#97661c"/>
<circle cx="681.6" cy="246.6" r="2.5" fill="#97661c"/>
<circle cx="675.3" cy="251.6" r="2.5" fill="#97661c"/>
<circle cx="681.6" cy="251.6" r="2.5" fill="#97661c"/>
<circle cx="662.1" cy="253.3" r="2.5" fill="#97661c"/>
<circle cx="688.4" cy="254.5" r="2.5" fill="#97661c"/>
<line x1="659.9" y1="226.9" x2="690.4" y2="226.9" stroke="#111" stroke-width="1.5"/>
<circle cx="721.1" cy="177.6" r="2.5" fill="#2f2f2f"/>
<circle cx="721.1" cy="182.6" r="2.5" fill="#2f2f2f"/>
<circle cx="714.9" cy="187.6" r="2.5" fill="#2f2f2f"/>
<circle cx="727.8" cy="185.6" r="2.5" fill="#2f2f2f"/>
<circle cx="727.8" cy="191.0" r="2.5" fill="#2f2f2f"/>
<circle cx="721.1" cy="193.5" r="2.5" fill="#2f2f2f"/>
<circle cx="727.8" cy="199.9" r="2.5" fill="#2f2f2f"/>
<circle cx="721.1" cy="202.8" r="2.5" fill="#2f2f2f"/>
<circle cx="727.8" cy="207.3" r="2.5" fill="#2f2f2f"/>
<circle cx="714.9" cy="210.4" r="2.5" fill="#2f2f2f"/>
<circle cx="708.2" cy="212.3" r="2.5" fill="#2f2f2f"/>
<circle cx="727.8" cy="213.0" r="2.5" fill="#2f2f2f"/>
<circle cx="734.5" cy="213.9" r="2.5" fill="#2f2f2f"/>
<circle cx="714.9" cy="216.0" r="2.5" fill="#2f2f2f"/>
<circle cx="721.1" cy="215.2" r="2.5" fill="#2f2f2f"/>
<circle cx="708.2" cy="218.2" r="2.5" fill="#2f2f2f"/>
<circle cx="734.5" cy="218.6" r="2.5" fill="#2f2f2f"/>
<circle cx="714.9" cy="222.0" r="2.5" fill="#2f2f2f"/>
<circle cx="721.1" cy="221.2" r="2.5" fill="#2f2f2f"/>
<circle cx="727.8" cy="222.4" r="2.5" fill="#2f2f2f"/>
<circle cx="714.9" cy="228.5" r="2.5" fill="#2f2f2f"/>
<circle cx="734.5" cy="228.0" r="2.5" fill="#2f2f2f"/>
<circle cx="708.2" cy="231.0" r="2.5" fill="#2f2f2f"/>
<circle cx="721.1" cy="231.0" r="2.5" fill="#2f2f2f"/>
<circle cx="714.9" cy="234.9" r="2.5" fill="#2f2f2f"/>
<circle cx="734.5" cy="235.2" r="2.5" fill="#2f2f2f"/>
<circle cx="721.1" cy="236.9" r="2.5" fill="#2f2f2f"/>
<circle cx="727.8" cy="237.7" r="2.5" fill="#2f2f2f"/>
<circle cx="714.9" cy="239.9" r="2.5" fill="#2f2f2f"/>
<circle cx="721.1" cy="243.6" r="2.5" fill="#2f2f2f"/>
<circle cx="727.8" cy="242.8" r="2.5" fill="#2f2f2f"/>
<circle cx="708.2" cy="245.3" r="2.5" fill="#2f2f2f"/>
<circle cx="734.5" cy="245.3" r="2.5" fill="#2f2f2f"/>
<line x1="707.6" y1="218.2" x2="735.4" y2="218.2" stroke="#111" stroke-width="1.5"/>
<g fill="#222" font-family='"Liberation Sans", sans-serif'>
<text transform="translate(12.7,31.7) scale(0.85,1)" font-size="16.5">a</text>
<text transform="translate(21.2,31.3) scale(0.9,1)" font-size="19">)</text>
<text transform="translate(387.3,31.6) scale(0.9,1)" font-size="17.5">b</text>
<text transform="translate(396.6,31.3) scale(0.9,1)" font-size="19">)</text>
</g>
</svg>

</body></html>
